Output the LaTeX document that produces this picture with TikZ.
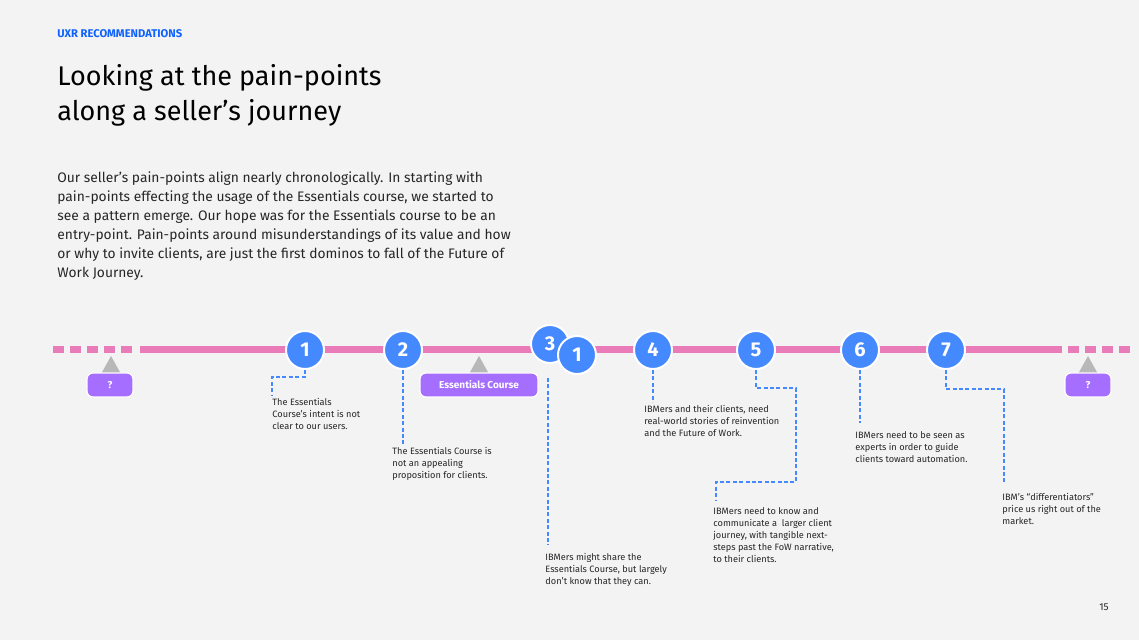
\documentclass[tikz,border=0pt]{standalone}
\usepackage{fontspec}
\setmainfont{Fira Sans}
\usetikzlibrary{positioning}
\definecolor{bgray}{HTML}{F3F3F3}
\definecolor{ibmblue}{HTML}{4589FF}
\definecolor{linkblue}{HTML}{0F62FE}
\definecolor{tlpink}{HTML}{E97BB8}
\definecolor{tagpurple}{HTML}{A56EFF}
\tikzset{
	stop/.style={circle, fill=ibmblue, draw=white, line width=1pt, minimum size=19pt, inner sep=0pt, text=white, font=\bfseries\fontsize{10}{10}\selectfont},
	tag/.style={rounded corners=3pt, fill=tagpurple, draw=white, line width=0.6pt, minimum height=12pt, text=white, font=\bfseries\fontsize{5}{5}\selectfont},
	marker/.style={fill=black!28},
	lead/.style={ibmblue, dashed, dash pattern=on 2pt off 1.2pt, line width=0.6pt},
	note/.style={anchor=north west, align=left, inner sep=0pt, text=black!85, font=\fontsize{4.6}{6}\selectfont}
}
\begin{document}
\begin{tikzpicture}[x=0.5pt, y=-0.5pt]
		\fill[bgray] (0, 0) rectangle (1139, 640);
		\useasboundingbox (0, 0) rectangle (1139, 640);

		% header
		\node[anchor=west, inner sep=0pt, text=linkblue, font=\bfseries\fontsize{5.6}{6}\selectfont] (kicker) at (57, 34) {UXR RECOMMENDATIONS};
		\node[anchor=north west, align=left, inner sep=0pt, font=\fontsize{13.5}{17.5}\selectfont] (title) at (57, 64) {Looking at the pain-points\\along a seller’s journey};
		\node[anchor=north west, align=left, inner sep=0pt, text=black!85, font=\fontsize{6.9}{9.5}\selectfont] (intro) at (57, 171) {Our seller’s pain-points align nearly chronologically. In starting with\\pain-points effecting the usage of the Essentials course, we started to\\see a pattern emerge. Our hope was for the Essentials course to be an\\entry-point. Pain-points around misunderstandings of its value and how\\or why to invite clients, are just the first dominos to fall of the Future of\\Work Journey.};

		% timeline
		\foreach \x in {53, 70, 87, 104, 121}
			\draw[tlpink, line width=3.5pt] (\x, 350) -- ++(11, 0);
		\draw[tlpink, line width=3.5pt] (140, 350) -- (1062, 350);
		\foreach \x in {1068, 1085, 1102, 1119}
			\draw[tlpink, line width=3.5pt] (\x, 350) -- ++(11, 0);

		% markers and tags
		\foreach \x in {111, 479, 1088}
			\fill[marker] (\x, 356) -- (\x + 10, 374) -- (\x - 10, 374) -- cycle;
		\node[tag, minimum width=23pt] (tagl) at (110, 385) {?};
		\node[tag, minimum width=59pt] (tagec) at (479, 385) {Essentials Course};
		\node[tag, minimum width=23pt] (tagr) at (1088, 385) {?};

		% stops
		\node[stop] (s1) at (305, 350) {1};
		\node[stop] (s2) at (403, 350) {2};
		\node[stop] (s3) at (550, 344) {3};
		\node[stop] (s1b) at (577, 355) {1};
		\node[stop] (s4) at (653, 350) {4};
		\node[stop] (s5) at (756, 350) {5};
		\node[stop] (s6) at (860, 350) {6};
		\node[stop] (s7) at (946, 350) {7};

		% notes
		\node[note] (t1) at (272, 398) {The Essentials\\Course’s intent is not\\clear to our users.};
		\node[note] (t2) at (392, 447) {The Essentials Course is\\not an appealing\\proposition for clients.};
		\node[note] (t3) at (545, 553) {IBMers might share the\\Essentials Course, but largely\\don’t know that they can.};
		\node[note] (t4) at (644, 405) {IBMers and their clients, need\\real-world stories of reinvention\\and the Future of Work.};
		\node[note] (t5) at (713, 507) {IBMers need to know and\\communicate a\ \ larger client\\journey, with tangible next-\\steps past the FoW narrative,\\to their clients.};
		\node[note] (t6) at (855, 431) {IBMers need to be seen as\\experts in order to guide\\clients toward automation.};
		\node[note] (t7) at (1002, 493) {IBM’s “differentiators”\\price us right out of the\\market.};

		% leads
		\draw[lead] (s1.south) -- (305, 377) -- (272, 377) -- (272, 395);
		\draw[lead] (403, 370) -- (403, 444);
		\draw[lead] (548, 378) -- (548, 545);
		\draw[lead] (s4.south) -- (653, 402);
		\draw[lead] (s5.south) -- (756, 388) -- (796, 388) -- (796, 482) -- (716, 482) -- (716, 500);
		\draw[lead] (s6.south) -- (860, 423);
		\draw[lead] (s7.south) -- (946, 389) -- (1004, 389) -- (1004, 484);

		\node[inner sep=0pt, text=black!85, font=\fontsize{5}{6}\selectfont] (page) at (1104, 607) {15};
	\end{tikzpicture}
\end{document}
